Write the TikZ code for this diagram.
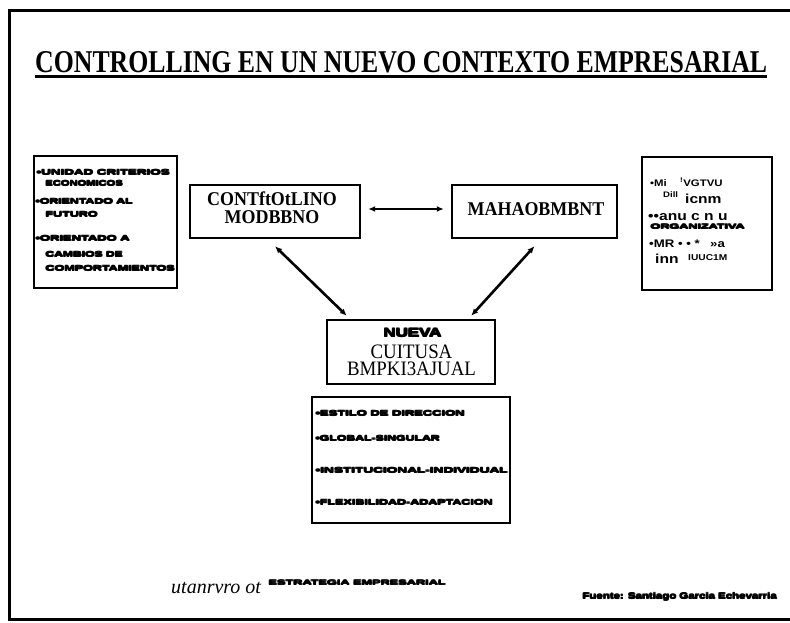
\documentclass[tikz,border=0pt]{standalone}
\usepackage{fontspec}
\setmainfont{Liberation Serif}
\newfontfamily\boxserif{Liberation Serif}[FakeStretch=0.92]
\newfontfamily\blobfont{Liberation Sans Bold}
\newfontfamily\notefont{Liberation Sans Bold}[FakeStretch=1.2]
\usetikzlibrary{arrows.meta}
% overprint a text with small offsets so that it reads as a heavy smudge
\newcommand{\fat}[1]{\rlap{#1}\rlap{\hspace{0.7pt}#1}\rlap{\raisebox{0.5pt}{#1}}\hspace{0.7pt}\raisebox{0.5pt}{#1}}
% heavy, tiny capitals squeezed into a given width (and cap height)
\newcommand{\blobline}[3][5.6pt]{\resizebox{#2}{#1}{\blobfont\fat{#3}}}

\begin{document}
\begin{tikzpicture}[x=1pt,y=-1pt,
  frame/.style={line width=3.6pt},
  panel/.style={draw, line width=2.4pt, inner sep=0pt},
  arr/.style={line width=2.6pt, {Latex[length=7pt,width=6pt]}-{Latex[length=7pt,width=6pt]}},
  txt/.style={inner sep=0pt, anchor=base west},
  ctxt/.style={inner sep=0pt, anchor=base},
  pair/.style={inner sep=0pt, align=center},
  boldserif/.style={font=\boxserif\bfseries\fontsize{19.5}{17.5}\selectfont},
  plainserif/.style={font=\boxserif\fontsize{20.5}{17}\selectfont},
]
\path[use as bounding box] (0,0) rectangle (790,622);

% page frame (open on the right)
\coordinate (f1) at (790,10.5);
\coordinate (f2) at (9.5,10.5);
\coordinate (f3) at (9.5,619.5);
\coordinate (f4) at (790,619.5);
\draw[frame] (f1) -- (f2) -- (f3) -- (f4);

% title
\node[inner sep=0pt, anchor=base west] (ti) at (35,72)
  {\resizebox{732pt}{21pt}{\bfseries CONTROLLING EN UN NUEVO CONTEXTO EMPRESARIAL}};
\draw[line width=2.2pt] ([yshift=-4.5pt]ti.base west) -- ([yshift=-4.5pt]ti.base east);

% panels
\node[panel, minimum width=143pt, minimum height=132pt] (lb) at (105.5,222) {};
\node[panel, minimum width=170pt, minimum height=53pt]  (cm) at (275,211.5) {};
\node[panel, minimum width=165pt, minimum height=53pt]  (mg) at (534.5,211.5) {};
\node[panel, minimum width=130pt, minimum height=133pt] (rb) at (707,223.5) {};
\node[panel, minimum width=168pt, minimum height=64pt]  (nu) at (411,352) {};
\node[panel, minimum width=198pt, minimum height=126pt] (bt) at (411,460) {};

% connectors
\draw[arr] ([xshift=7pt,yshift=2.5pt]cm.east) -- ([xshift=-7pt,yshift=2.5pt]mg.west);
\draw[arr] ([yshift=-7pt]cm.south) -- ([xshift=21pt,yshift=3pt]nu.north west);
\draw[arr] ([yshift=-7pt]mg.south) -- ([xshift=-25pt,yshift=3pt]nu.north east);

% left panel
\node[txt] (l1) at (36,175) {\blobline{134pt}{•UNIDAD CRITERIOS}};
\node[txt] (l2) at (45,186) {\blobline{78pt}{ECONOMICOS}};
\node[txt] (l3) at (35,204) {\blobline{98pt}{•ORIENTADO AL}};
\node[txt] (l4) at (45,217) {\blobline{53pt}{FUTURO}};
\node[txt] (l5) at (35,241) {\blobline{95pt}{•ORIENTADO A}};
\node[txt] (l6) at (45,257) {\blobline{78pt}{CAMBIOS DE}};
\node[txt] (l7) at (45,271) {\blobline{130pt}{COMPORTAMIENTOS}};

% upper boxes
\node[pair, boldserif] (cmt) at (272,207.5) {CONTftOtLINO\\MODBBNO};
\node[ctxt, boldserif] (mgt) at (536,215) {MAHAOBMBNT};

% right panel
\node[txt, font=\notefont\fontsize{9.5}{10}\selectfont] (r1) at (650,186) {•Mi};
\node[txt, font=\notefont\fontsize{9.5}{10}\selectfont] (r2) at (680,186) {\textsuperscript{!}VGTVU};
\node[txt, font=\notefont\fontsize{8}{9}\selectfont] (r3) at (663,197) {Dill};
\node[txt, font=\notefont\fontsize{13}{14}\selectfont] (r4) at (685,203) {icnm};
\node[txt, font=\notefont\fontsize{13}{14}\selectfont] (r5) at (648,220) {••anu c n u};
\node[txt] (r6) at (650,229) {\blobline[5pt]{95pt}{ORGANIZATIVA}};
\node[txt, font=\notefont\fontsize{11}{12}\selectfont] (r7) at (649,247) {•MR • • *};
\node[txt, font=\notefont\fontsize{11}{12}\selectfont] (r8) at (710,247) {»a};
\node[txt, font=\notefont\fontsize{13}{14}\selectfont] (r9) at (655,263) {inn};
\node[txt, font=\notefont\fontsize{8.5}{9}\selectfont] (r10) at (688,260) {IUUC1M};

% centre box
\node[ctxt] (nu1) at (412.5,337) {\blobline[9pt]{59pt}{NUEVA}};
\node[pair, plainserif] (nut) at (411.5,360) {CUITUSA\\BMPKI3AJUAL};

% lower panel
\node[txt] (b1) at (315,416) {\blobline{150pt}{•ESTILO DE DIRECCION}};
\node[txt] (b2) at (315,441) {\blobline{125pt}{•GLOBAL-SINGULAR}};
\node[txt] (b3) at (315,473) {\blobline{193pt}{•INSTITUCIONAL-INDIVIDUAL}};
\node[txt] (b4) at (315,505) {\blobline{178pt}{•FLEXIBILIDAD-ADAPTACION}};

% footer
\node[txt, font=\fontsize{20}{21}\selectfont\itshape] (ft) at (171,593) {utanrvro ot};
\node[txt] (fb) at (268,585) {\blobline[5pt]{178pt}{ESTRATEGIA EMPRESARIAL}};
\node[txt] (src) at (582,599) {\blobline[6.5pt]{195pt}{Fuente: Santiago Garcia Echevarria}};
\end{tikzpicture}
\end{document}
